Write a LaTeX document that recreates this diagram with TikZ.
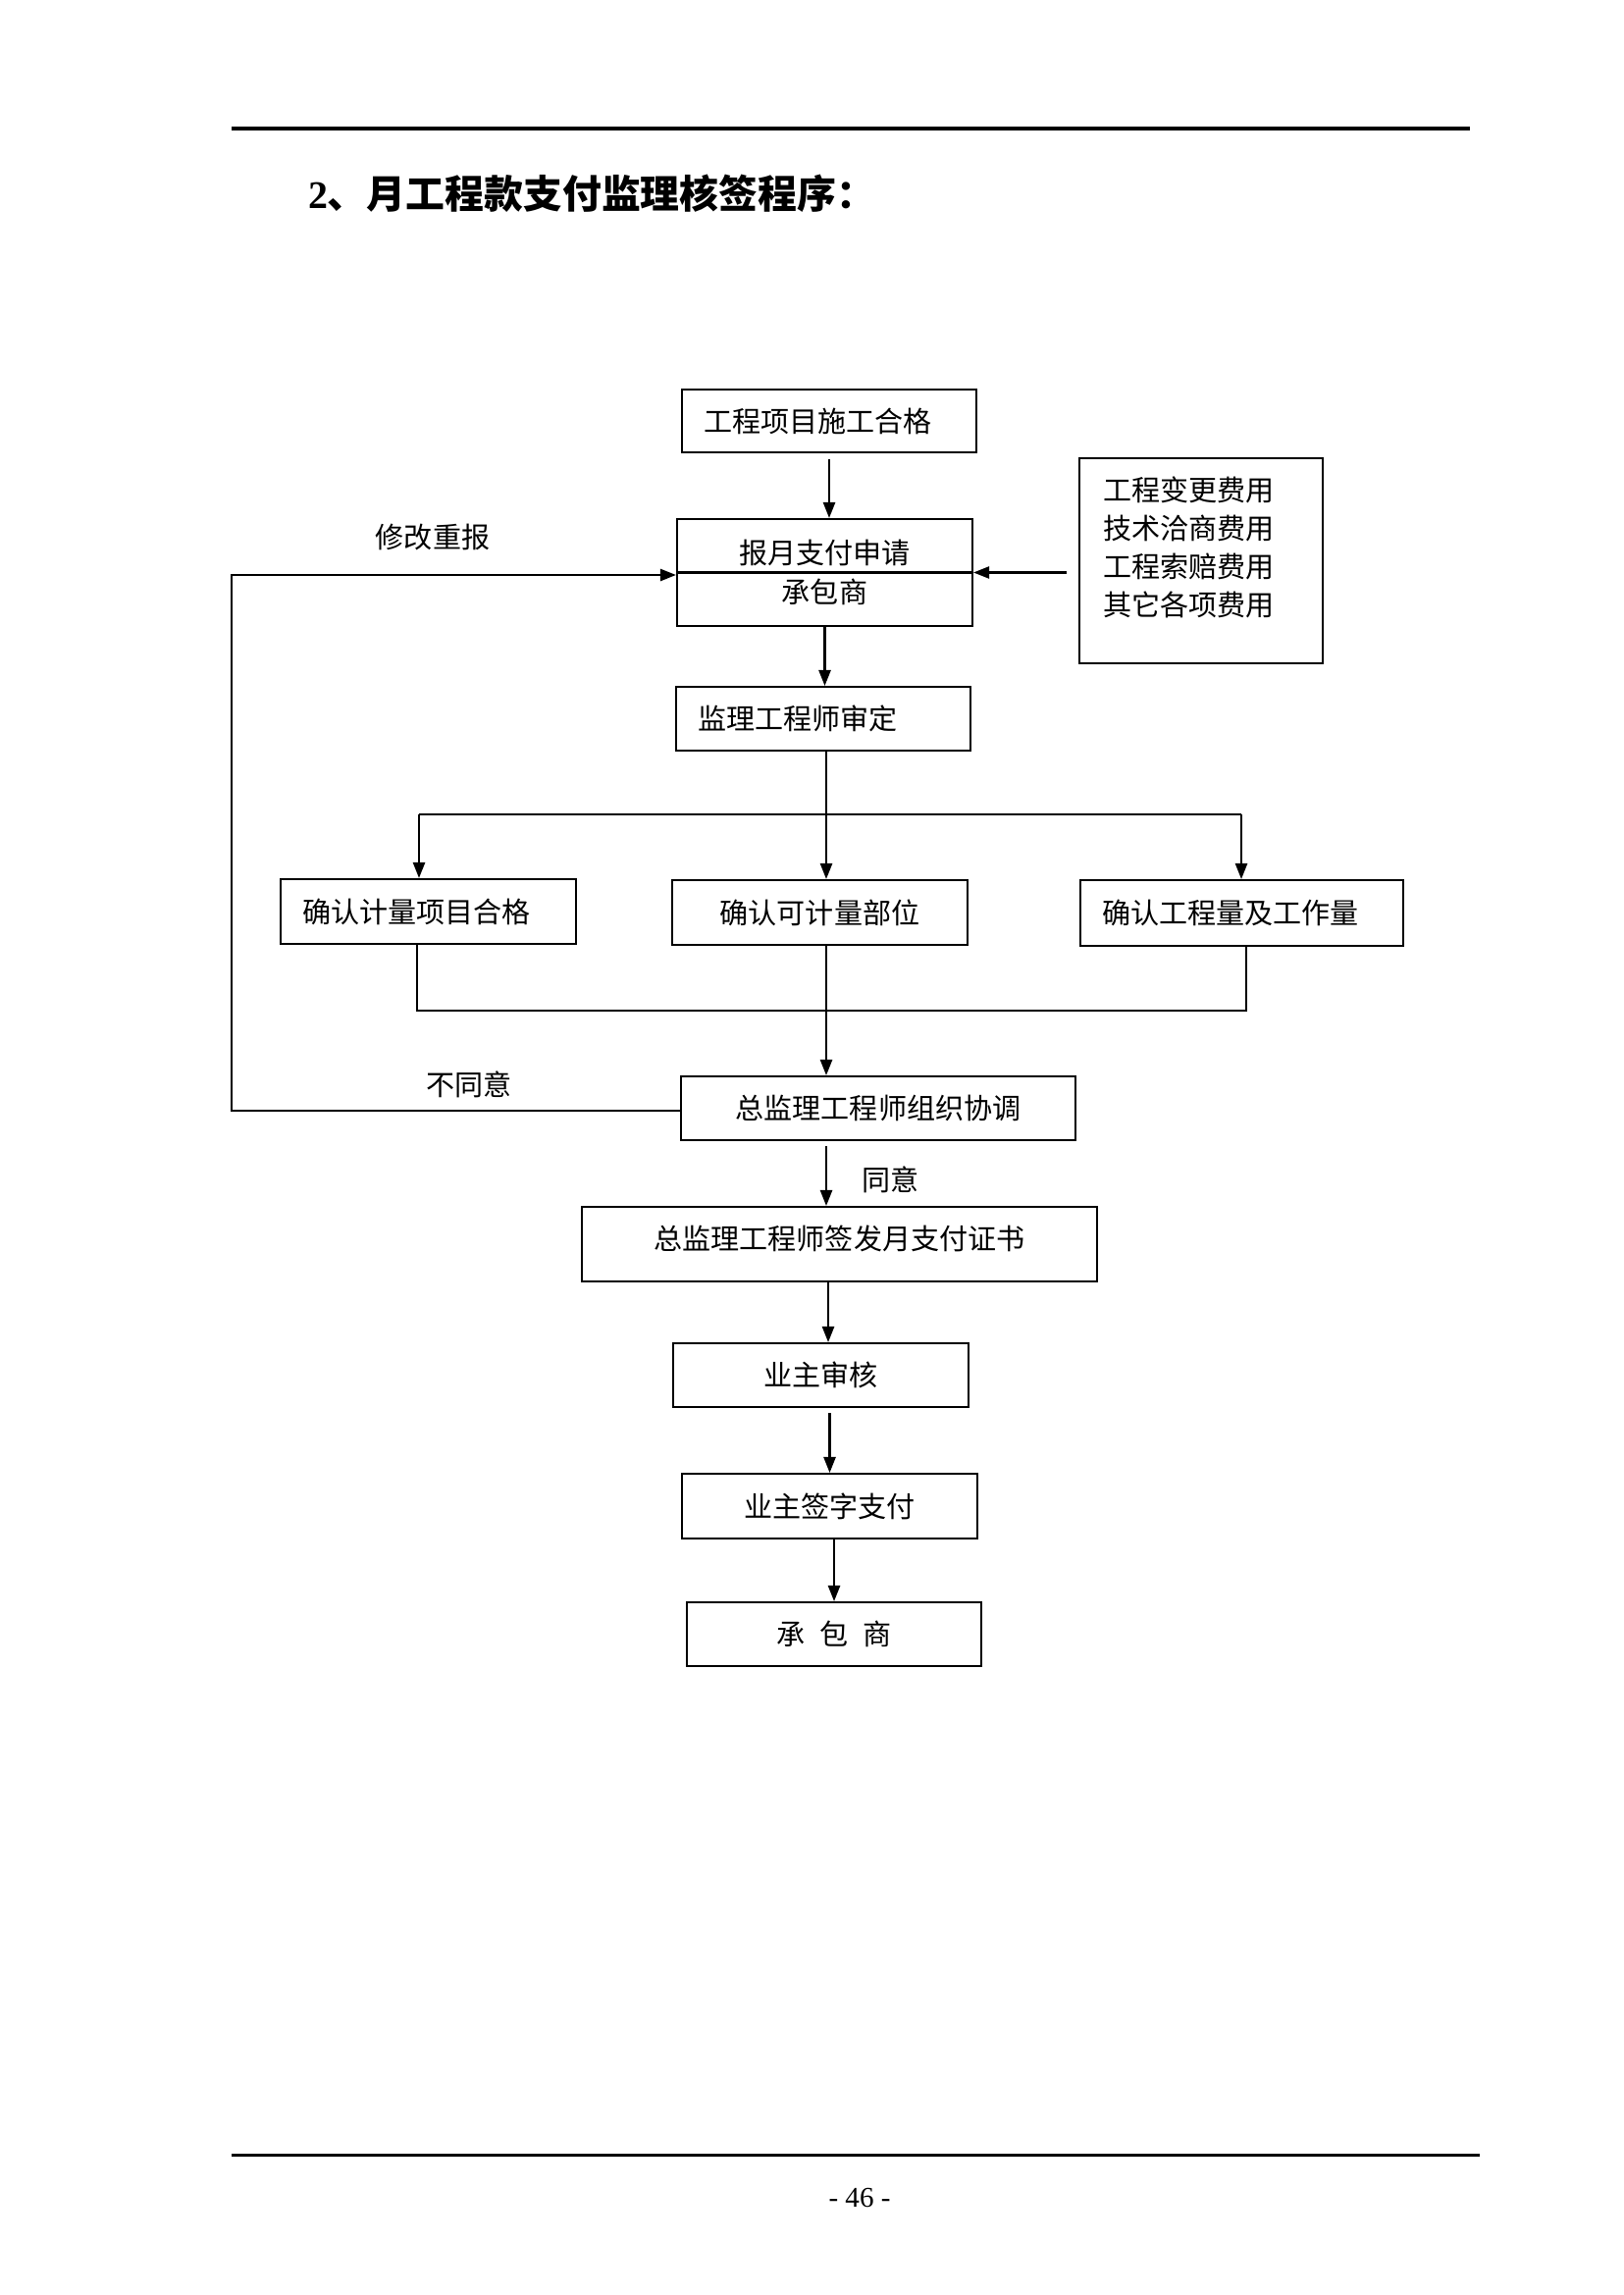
\documentclass[tikz,border=0pt]{standalone}
\usepackage{fontspec}
\setmainfont{Liberation Serif}
\newfontfamily\cjk{Noto Sans CJK SC}
\usetikzlibrary{arrows.meta}
\newdimen\pxu
\pxu=0.12697mm
\tikzset{
  box/.style={draw, inner sep=0pt, align=center},
  lbox/.style={box, align=left, inner xsep=22\pxu, inner ysep=0pt, text width=#1},
  arr/.style={-{Triangle[length=5.8pt,width=4.4pt]}},
  lbl/.style={inner sep=0pt},
  rulefont/.style={line width=1.1pt}
}
\begin{document}
\begin{tikzpicture}[x=0.12697mm, y=-0.12697mm, line width=0.75pt,
  font=\cjk\fontsize{10.5pt}{14.45pt}\selectfont]
\useasboundingbox (0,0) rectangle (1654,2339);

% header / footer rules
\draw[rulefont] (236,131) -- (1498,131);
\draw[rulefont] (236,2196) -- (1508,2196);

% title and page number
\node[lbl, anchor=west, font=\cjk\bfseries\fontsize{14.4pt}{17pt}\selectfont] (title) at (313,197)
  {{\rmfamily\bfseries 2}、月工程款支付监理核签程序：};
\node[lbl, font=\rmfamily\fontsize{10.5pt}{12pt}\selectfont] (pg) at (876,2240) {- 46 -};

% boxes
\node[lbox=256\pxu, minimum height=64\pxu] (b1) at (845,429) {工程项目施工合格};
\node[box, minimum width=301\pxu, minimum height=109\pxu] (b2) at (840.5,583.5) {报月支付申请\\承包商};
\node[box, minimum width=248\pxu, minimum height=209\pxu] (fee) at (1224,571.5) {};
\node[lbl, anchor=west] (f1) at (1123,499) {工程变更费用};
\node[lbl, anchor=west] (f2) at (1123,538) {技术洽商费用};
\node[lbl, anchor=west] (f3) at (1123,577) {工程索赔费用};
\node[lbl, anchor=west] (f4) at (1123,616) {其它各项费用};
\node[lbox=256\pxu, minimum height=65\pxu] (b3) at (839,732.5) {监理工程师审定};
\node[lbox=257\pxu, minimum height=66\pxu] (L) at (436.5,929) {确认计量项目合格};
\node[box, minimum width=301\pxu, minimum height=66\pxu] (M) at (835.5,930) {确认可计量部位};
\node[lbox=285\pxu, minimum height=67\pxu] (R) at (1265.5,930.5) {确认工程量及工作量};
\node[box, minimum width=402\pxu, minimum height=65\pxu] (Z) at (895,1129.5) {总监理工程师组织协调};
\node[box, minimum width=525\pxu, minimum height=76\pxu, text depth=14\pxu] (Q) at (855.5,1268) {总监理工程师签发月支付证书};
\node[box, minimum width=301\pxu, minimum height=65\pxu] (Y1) at (836.5,1401.5) {业主审核};
\node[box, minimum width=301\pxu, minimum height=66\pxu] (Y2) at (845.5,1535) {业主签字支付};
\node[box, minimum width=300\pxu, minimum height=65\pxu] (C) at (850,1665.5) {承\hspace{0.5em}包\hspace{0.5em}商};

% labels
\node[lbl] (t1) at (441,547) {修改重报};
\node[lbl] (t2) at (478,1105) {不同意};
\node[lbl, anchor=west] (t3) at (877,1202) {同意};

% connectors
\draw (b2.west) -- (b2.east);
\draw[arr, shorten <=6\pxu] (b1.south) -- (b1.south |- b2.north);
\draw[arr] (b2.south) -- (b2.south |- b3.north);
\draw[arr] ([xshift=-12\pxu]fee.west |- b2.east) -- (b2.east);
\coordinate (lx) at (236,586);
\coordinate (zl) at (236,1132);
\draw[arr] (zl -| Z.west) -- (zl) -- (lx) -- (lx -| b2.west);

\coordinate (tx) at (842,830);
\coordinate (sL) at (427,830);
\coordinate (sR) at (1265,830);
\draw[arr] (tx |- b3.south) -- (tx |- M.north);
\draw (sL) -- (sR);
\draw[arr] (sL) -- (sL |- L.north);
\draw[arr] (sR) -- (sR |- R.north);

\coordinate (mL) at (425,1030);
\coordinate (mR) at (1270,1030);
\draw (mL |- L.south) -- (mL) -- (mR) -- (mR |- R.south);
\draw (tx |- M.south) -- (tx |- mL);
\draw[arr] (tx |- mL) -- (tx |- Z.north);
\draw[arr, shorten <=5\pxu] (tx |- Z.south) -- (tx |- Q.north);
\coordinate (qy) at (844,1300);
\draw[arr] (qy |- Q.south) -- (qy |- Y1.north);
\draw[arr, shorten <=5\pxu] (Y2.north |- Y1.south) -- (Y2.north);
\draw[arr] (C.north |- Y2.south) -- (C.north);
\end{tikzpicture}
\end{document}
